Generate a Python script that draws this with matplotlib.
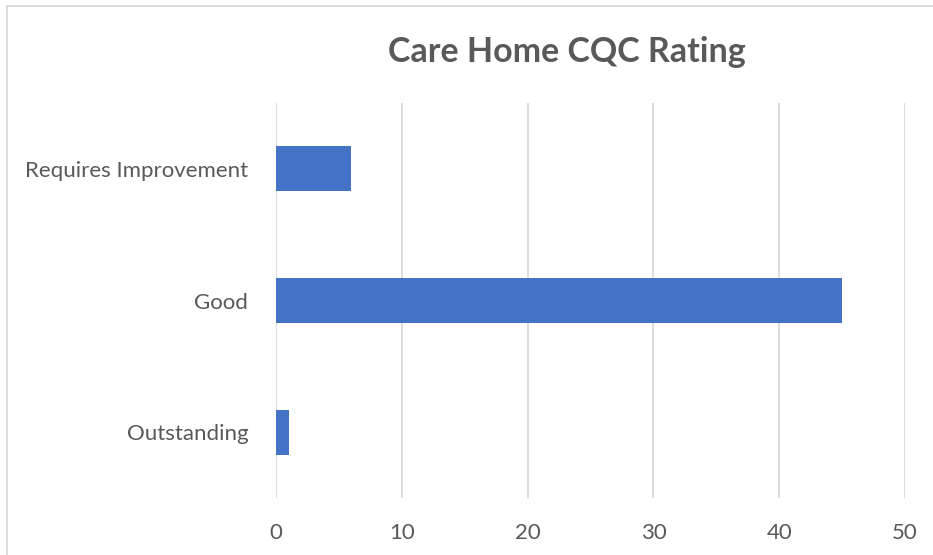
import matplotlib.pyplot as plt
from matplotlib.lines import Line2D

# data
categories = ["Outstanding", "Good", "Requires Improvement"]
counts = [1, 45, 6]
x_ticks = [0, 10, 20, 30, 40, 50]

plt.rcParams['font.family'] = ['Lato', 'DejaVu Sans']

fig = plt.figure(figsize=(9.33, 5.55), dpi=100)
ax = fig.add_axes([0.2958, 0.1027, 0.6742, 0.7117])

ax.barh(categories, counts, height=0.34, color='#4472C4', zorder=3)

ax.set_xlim(0, 50)
ax.set_ylim(-0.5, 2.5)
ax.set_xticks(x_ticks)
ax.grid(axis='x', color='#d9d9d9', linewidth=1.3, zorder=0)
ax.grid(axis='y', visible=False)
for s in ax.spines.values():
    s.set_visible(False)
ax.tick_params(axis='both', length=0, labelsize=16, labelcolor='#595959')
ax.tick_params(axis='y', pad=20)
ax.tick_params(axis='x', pad=18)

fig.suptitle("Care Home CQC Rating", x=0.608, y=0.935, fontsize=24.5,
             fontweight='bold', color='#595959')

# chart border, only top and left edges are inside the crop
fig.add_artist(Line2D([7 / 933, 1], [1 - 6 / 555, 1 - 6 / 555], transform=fig.transFigure,
                      color='#d9d9d9', linewidth=1.3))
fig.add_artist(Line2D([7 / 933, 7 / 933], [0, 1 - 6 / 555], transform=fig.transFigure,
                      color='#d9d9d9', linewidth=1.3))

fig.savefig("out.png", dpi=100)
